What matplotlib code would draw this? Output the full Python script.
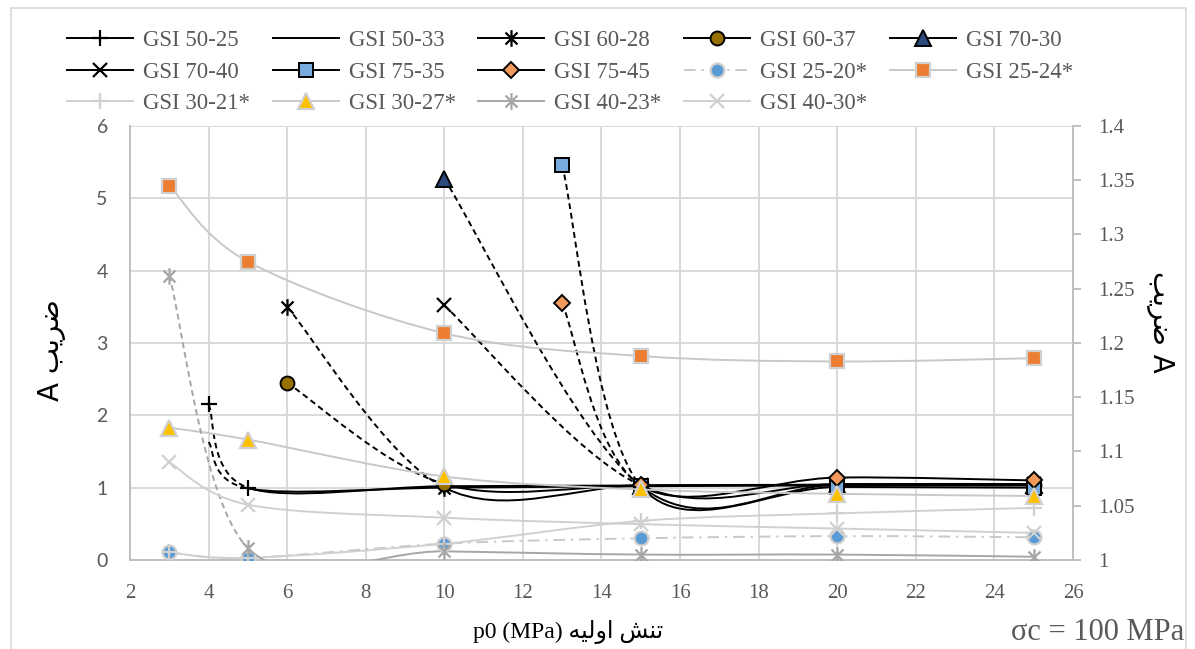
import matplotlib
matplotlib.use("Agg")
import matplotlib.pyplot as plt
from matplotlib.path import Path
from matplotlib.patches import PathPatch, Rectangle
from matplotlib.lines import Line2D

# ---------------- data ----------------
# primary axis (left) series
x_50_25 = [4, 5, 10, 15, 20, 25];  y_50_25 = [2.15, 1.00, 1.02, 1.03, 1.04, 1.04]
x_50_33 = [4, 5, 10, 15, 20, 25];  y_50_33 = [1.63, 0.99, 1.00, 1.02, 1.03, 1.03]
x_60_28 = [6, 10, 15, 20, 25];     y_60_28 = [3.50, 1.00, 1.03, 1.04, 1.04]
x_60_37 = [6, 10, 15, 20, 25];     y_60_37 = [2.45, 1.05, 1.03, 1.04, 1.04]
x_70_30 = [10, 15, 20, 25];        y_70_30 = [5.27, 1.02, 1.04, 1.04]
x_70_40 = [10, 15, 20, 25];        y_70_40 = [3.52, 1.03, 1.05, 1.05]
x_75_35 = [13, 15, 20, 25];        y_75_35 = [5.46, 1.02, 1.01, 1.00]
x_75_45 = [13, 15, 20, 25];        y_75_45 = [3.55, 1.03, 1.14, 1.10]
# secondary axis (right) series
x_star = [3, 5, 10, 15, 20, 25]
y_25_20 = [1.007, 1.002, 1.015, 1.020, 1.022, 1.021]
y_25_24 = [1.345, 1.275, 1.209, 1.188, 1.183, 1.186]
y_30_21 = [1.007, 1.002, 1.015, 1.036, 1.043, 1.048]
y_30_27 = [1.122, 1.111, 1.077, 1.065, 1.061, 1.059]
y_40_23 = [1.262, 1.011, 1.008, 1.005, 1.005, 1.003]
y_40_30 = [1.090, 1.051, 1.039, 1.033, 1.029, 1.025]

x_ticks = [2, 4, 6, 8, 10, 12, 14, 16, 18, 20, 22, 24, 26]
y_left_ticks = [0, 1, 2, 3, 4, 5, 6]
y_right_ticks = [1, 1.05, 1.1, 1.15, 1.2, 1.25, 1.3, 1.35, 1.4]
y_right_labels = ["1", "1.05", "1.1", "1.15", "1.2", "1.25", "1.3", "1.35", "1.4"]

# Persian text (visual order, presentation forms)
word_zarib = "\uFE90\uFBFE\uFEAE\uFEBF"                        # ضریب
ylab_left = "A " + word_zarib
ylab_right = word_zarib + " A"
xlab = "p0 (MPa) " + "\uFEEA\uFBFF\uFEDF\uFEED\uFE8D" + " " + "\uFEB6\uFEE8\uFE97"  # تنش اولیه (MPa) p0
note = "\u03c3c = 100 MPa"

# ---------------- style ----------------
W, H, DPI = 1195, 649, 100
SERIF = ["Liberation Serif", "DejaVu Serif"]
TICKC = "#595959"
GRID = "#D9D9D9"
LG = "#C8C8C8"   # light gray lines
MG = "#A6A6A6"   # medium gray

plt.rcParams["font.family"] = SERIF

fig = plt.figure(figsize=(W / DPI, H / DPI), dpi=DPI)
def px(x, y):
    return x / W, 1 - y / H

L, R, T, B = 130, 1073, 126, 560
ax = fig.add_axes([L / W, 1 - B / H, (R - L) / W, (B - T) / H])
ax2 = ax.twinx()

ax.set_xlim(2, 26)
ax.set_ylim(0, 6)
ax2.set_ylim(1, 1.4)
ax.set_xticks(x_ticks)
ax.set_yticks(y_left_ticks)
ax2.set_yticks(y_right_ticks)
ax2.set_yticklabels(y_right_labels)
ax.grid(True, color=GRID, lw=1.4)
ax.set_axisbelow(True)
for s in ["top"]:
    ax.spines[s].set_visible(False)
    ax2.spines[s].set_visible(False)
for a in (ax, ax2):
    for s in ["left", "right", "bottom"]:
        a.spines[s].set_color("#BFBFBF")
        a.spines[s].set_linewidth(1.4)
ax.tick_params(axis="x", length=0, pad=17, labelsize=15, labelcolor=TICKC)
ax.tick_params(axis="y", length=0, pad=16, labelsize=14, labelcolor=TICKC)
for lab in ax.get_yticklabels():
    lab.set_fontfamily(["Lato", "DejaVu Sans"])
ax2.tick_params(axis="y", length=6, width=1.4, color="#BFBFBF", pad=12,
                labelsize=15, labelcolor=TICKC)
ax2.patch.set_visible(False)

# Excel-like smoothing (cubic Bezier, 1/6 neighbour chords)
def bezier_segments(xs, ys):
    pts = list(zip(xs, ys))
    n = len(pts)
    segs = []
    for i in range(n - 1):
        p0 = pts[i - 1] if i > 0 else pts[i]
        p1 = pts[i]
        p2 = pts[i + 1]
        p3 = pts[i + 2] if i + 2 < n else pts[i + 1]
        c1 = (p1[0] + (p2[0] - p0[0]) / 6, p1[1] + (p2[1] - p0[1]) / 6)
        c2 = (p2[0] - (p3[0] - p1[0]) / 6, p2[1] - (p3[1] - p1[1]) / 6)
        segs.append([p1, c1, c2, p2])
    return segs

def draw_smooth(a, xs, ys, color, lw, ls="-", first_ls=None, z=2):
    segs = bezier_segments(xs, ys)
    start = 0
    if first_ls is not None:
        s = segs[0]
        p = Path(s, [Path.MOVETO, Path.CURVE4, Path.CURVE4, Path.CURVE4])
        a.add_patch(PathPatch(p, fill=False, edgecolor=color, lw=lw, ls=first_ls,
                              zorder=z, capstyle="butt"))
        start = 1
    verts, codes = [], []
    for k, s in enumerate(segs[start:]):
        if k == 0:
            verts.append(s[0]); codes.append(Path.MOVETO)
        verts += s[1:]; codes += [Path.CURVE4] * 3
    if verts:
        a.add_patch(PathPatch(Path(verts, codes), fill=False, edgecolor=color,
                              lw=lw, ls=ls, zorder=z, joinstyle="round"))

star = Path([(0, -1), (0, 1), (-0.72, -0.72), (0.72, 0.72), (-0.72, 0.72), (0.72, -0.72)],
            [Path.MOVETO, Path.LINETO] * 3)

DASH = (0, (3, 2))
DASHDOT = (0, (6, 3, 1.2, 3))
BLW = 1.4

series_primary = [
    ("GSI 50-25", x_50_25, y_50_25, dict(marker="+", ms=11, mew=1.6, mec="k", mfc="k")),
    ("GSI 50-33", x_50_33, y_50_33, dict(marker="None")),
    ("GSI 60-28", x_60_28, y_60_28, dict(marker=star, ms=12, mew=1.6, mec="k", mfc="k")),
    ("GSI 60-37", x_60_37, y_60_37, dict(marker="o", ms=10, mew=1.4, mec="k", mfc="#967000")),
    ("GSI 70-30", x_70_30, y_70_30, dict(marker="^", ms=11, mew=1.4, mec="k", mfc="#2A4B7C")),
    ("GSI 70-40", x_70_40, y_70_40, dict(marker="x", ms=10, mew=1.6, mec="k", mfc="k")),
    ("GSI 75-35", x_75_35, y_75_35, dict(marker="s", ms=10, mew=1.4, mec="k", mfc="#78AADC")),
    ("GSI 75-45", x_75_45, y_75_45, dict(marker="D", ms=8, mew=1.4, mec="k", mfc="#F19A5B")),
]
handles = {}
for name, xs, ys, mk in series_primary:
    draw_smooth(ax, xs, ys, "k", BLW, first_ls=DASH, z=3)
    if mk["marker"] != "None":
        ax.plot(xs, ys, ls="none", zorder=4, **mk)
    handles[name] = Line2D([], [], color="k", lw=BLW, **mk)

series_sec = [
    ("GSI 25-20*", y_25_20, LG, DASHDOT, None,
     dict(marker="o", ms=10, mew=1.6, mec="#D0D0D0", mfc="#5B9BD5")),
    ("GSI 25-24*", y_25_24, LG, "-", None,
     dict(marker="s", ms=10, mew=1.6, mec="#D0D0D0", mfc="#ED7D31")),
    ("GSI 30-21*", y_30_21, "#D0D0D0", "-", None,
     dict(marker="+", ms=11, mew=1.6, mec="#D0D0D0", mfc="#D0D0D0")),
    ("GSI 30-27*", y_30_27, LG, "-", None,
     dict(marker="^", ms=11, mew=1.6, mec="#D0D0D0", mfc="#FFC000")),
    ("GSI 40-23*", y_40_23, MG, "-", DASH,
     dict(marker=star, ms=12, mew=1.6, mec=MG, mfc=MG)),
    ("GSI 40-30*", y_40_30, "#D0D0D0", "-", None,
     dict(marker="x", ms=10, mew=1.6, mec="#D0D0D0", mfc="#D0D0D0")),
]
for name, ys, col, ls, fls, mk in series_sec:
    draw_smooth(ax2, x_star, ys, col, BLW, ls=ls, first_ls=fls, z=3)
    ax2.plot(x_star, ys, ls="none", zorder=4, **mk)
    handles[name] = Line2D([], [], color=col, lw=BLW, ls=ls, **mk)

order = ["GSI 50-25", "GSI 70-40", "GSI 30-21*",
         "GSI 50-33", "GSI 75-35", "GSI 30-27*",
         "GSI 60-28", "GSI 75-45", "GSI 40-23*",
         "GSI 60-37", "GSI 25-20*", "GSI 40-30*",
         "GSI 70-30", "GSI 25-24*"]
leg = fig.legend([handles[k] for k in order], order, ncol=5, loc="upper left",
                 bbox_to_anchor=px(67, 30), frameon=False, borderpad=0,
                 borderaxespad=0, handlelength=2.88, handletextpad=0.44,
                 columnspacing=0.98, labelspacing=0.46, numpoints=1,
                 prop={"family": SERIF, "size": 16.5})
for t in leg.get_texts():
    t.set_color(TICKC)

# axis titles
fig.text(*px(52, 350), ylab_left, rotation=90, ha="center", va="center", fontsize=20,
         family=["DejaVu Sans"], color="k")
fig.text(*px(1160, 322), ylab_right, rotation=-90, ha="center", va="center", fontsize=20,
         family=["DejaVu Sans"], color="k")
fig.text(*px(568, 632), xlab, ha="center", va="center", fontsize=17,
         family=["Liberation Serif", "DejaVu Sans"], color="k")
fig.text(*px(1184, 632), note, ha="right", va="center", fontsize=22,
         family=SERIF, color=TICKC)

# chart-area border
fig.patches.append(Rectangle(px(11, 660), (1186 - 11) / W, (660 - 8) / H,
                             transform=fig.transFigure, fill=False,
                             edgecolor="#D9D9D9", lw=1.2))

fig.savefig("out.png", dpi=DPI)
